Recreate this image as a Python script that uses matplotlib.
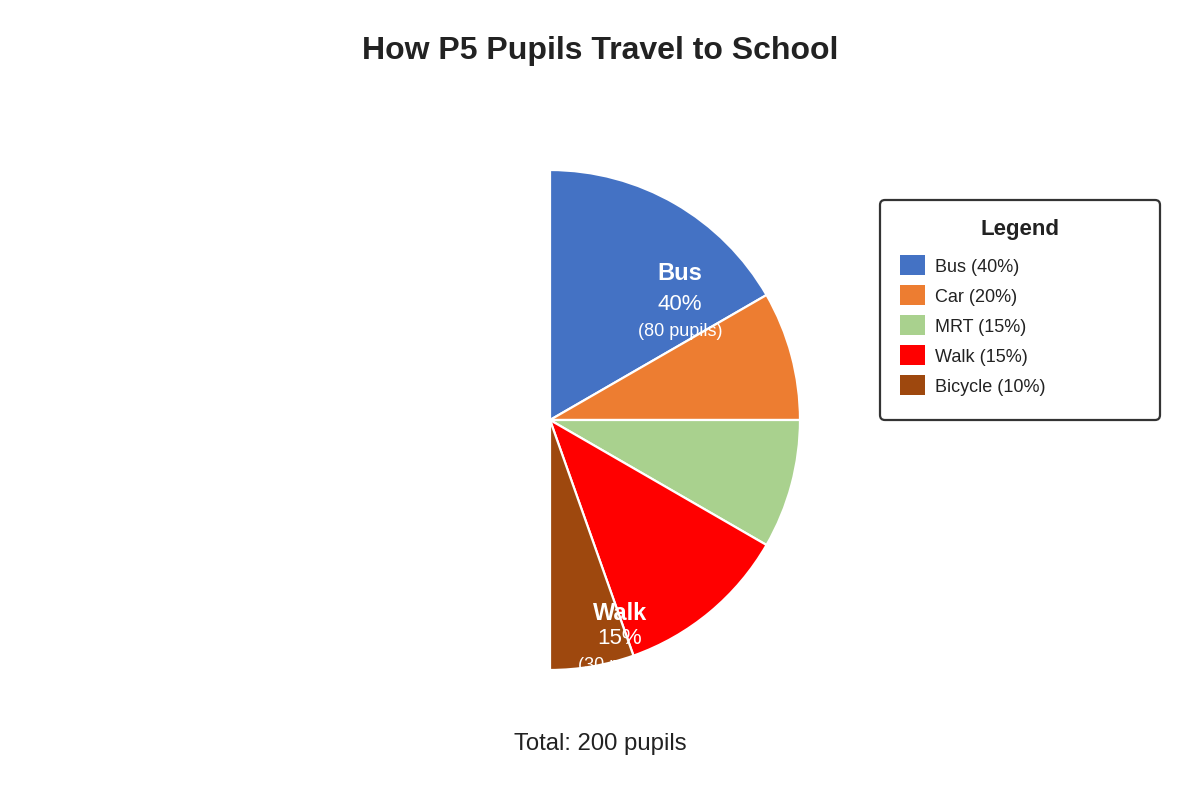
import matplotlib.pyplot as plt
from matplotlib.patches import Wedge, FancyBboxPatch, Rectangle

plt.rcParams['font.family'] = ['Liberation Sans', 'DejaVu Sans']

# ---------- data ----------
modes = ["Bus", "Car", "MRT", "Walk", "Bicycle"]
pupils = [80, 40, 30, 30, 20]
percent = [40, 20, 15, 15, 10]
colors = ["#4472C4", "#ED7D31", "#A9D18E", "#FF0000", "#9E480E"]
# sweep of each slice as it is actually drawn in the picture (degrees, half disc only)
drawn_sweep = [60, 30, 30, 40.5, 19.5]
labelled = ["Bus", "Walk"]
total = sum(pupils)

fig = plt.figure(figsize=(12, 8), dpi=100)
ax = fig.add_axes([0, 0, 1, 1])

cx, cy, r = 550, 380, 250

# the left half of the disc is not drawn in the reference -> hidden filler slice
wedges, _ = ax.pie(drawn_sweep + [180], colors=colors + ["white"], startangle=90,
                   counterclock=False, center=(cx, cy), radius=r,
                   wedgeprops=dict(edgecolor="white", linewidth=1.6))
wedges[-1].set_visible(False)

ax.set_xlim(0, 1200)
ax.set_ylim(0, 800)
ax.set_aspect("equal")
ax.axis("off")

clip = Wedge((cx, cy), r, -90, 90, transform=ax.transData)

# slice labels (x, y of name, line gaps), clipped to the visible half disc
label_pos = {"Bus": (680, 800 - 274, 30, 57), "Walk": (620, 800 - 614, 25, 51)}
for name in labelled:
    i = modes.index(name)
    x, y, g1, g2 = label_pos[name]
    texts = [
        ax.text(x, y, name, ha="center", va="center", color="white",
                fontsize=17, fontweight="bold"),
        ax.text(x, y - g1, f"{percent[i]}%", ha="center", va="center",
                color="white", fontsize=16),
        ax.text(x, y - g2, f"({pupils[i]} pupils)", ha="center", va="center",
                color="white", fontsize=13),
    ]
    for t in texts:
        t.set_clip_path(clip)

# ---------- legend box ----------
box = FancyBboxPatch((880, 800 - 420), 280, 220, boxstyle="round,pad=0,rounding_size=5",
                     facecolor="white", edgecolor="#333333", linewidth=1.6)
ax.add_patch(box)
ax.text(1020, 800 - 230, "Legend", ha="center", va="center", fontsize=16,
        fontweight="bold", color="#222222")
for i, name in enumerate(modes):
    yc = 800 - (265 + 30 * i)
    ax.add_patch(Rectangle((900, yc - 10), 25, 20, facecolor=colors[i], edgecolor="none"))
    ax.text(935, yc - 2, f"{name} ({percent[i]}%)", ha="left", va="center",
            fontsize=13, color="#222222")

fig.text(0.5, 1 - 51 / 800, "How P5 Pupils Travel to School", ha="center", va="center",
         fontsize=23, fontweight="bold", color="#222222")
fig.text(0.5, 1 - 744 / 800, f"Total: {total} pupils", ha="center", va="center",
         fontsize=17.2, color="#222222")

fig.savefig("out.png", dpi=100, facecolor="white")
